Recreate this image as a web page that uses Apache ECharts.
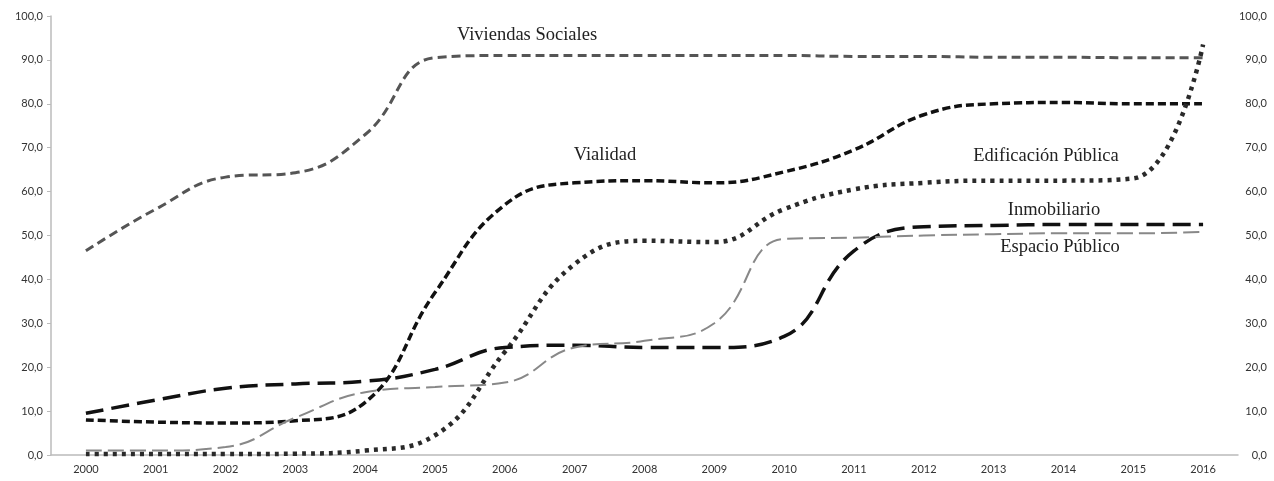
<!DOCTYPE html>
<html>
<head>
<meta charset="utf-8">
<script src="https://cdn.jsdelivr.net/npm/echarts@6/dist/echarts.min.js"></script>
<style>
html,body{margin:0;padding:0;background:#fff;}
#c{width:1274px;height:481px;}
</style>
</head>
<body>
<div id="c"></div>
<script>
const years = ['2000','2001','2002','2003','2004','2005','2006','2007','2008','2009','2010','2011','2012','2013','2014','2015','2016'];
const viviendasSociales = [46.5, 56.0, 63.3, 64.3, 73.0, 90.5, 91.0, 91.0, 91.0, 91.0, 91.0, 90.8, 90.8, 90.6, 90.6, 90.5, 90.5];
const vialidad = [8.0, 7.5, 7.3, 7.8, 12.0, 37.0, 57.0, 62.0, 62.5, 62.0, 64.5, 69.5, 77.5, 80.0, 80.3, 80.0, 80.0];
const edificacionPublica = [0.2, 0.2, 0.2, 0.3, 1.0, 4.5, 23.5, 43.5, 48.8, 48.5, 56.0, 60.5, 62.0, 62.5, 62.5, 63.0, 93.5];
const inmobiliario = [9.5, 12.5, 15.2, 16.2, 16.8, 19.5, 24.5, 25.0, 24.5, 24.5, 27.0, 46.5, 52.0, 52.3, 52.5, 52.5, 52.5];
const espacioPublico = [1.0, 1.0, 1.8, 8.5, 14.3, 15.5, 16.5, 24.5, 26.0, 30.0, 49.2, 49.5, 50.0, 50.3, 50.5, 50.5, 50.8];
const seriesLabels = ['Viviendas Sociales', 'Vialidad', 'Edificación Pública', 'Inmobiliario', 'Espacio Público'];

const fmt = v => v.toFixed(1).replace('.', ',');
const axisFont = {fontFamily: 'Lato', fontSize: 11, color: '#333'};
const labelFont = {fontFamily: 'Liberation Serif', fontSize: 18.5, fill: '#222'};

const chart = echarts.init(document.getElementById('c'), null, {renderer: 'canvas'});
chart.setOption({
  animation: false,
  backgroundColor: '#fff',
  grid: {left: 51, right: 36, top: 16, bottom: 26, containLabel: false},
  xAxis: {
    type: 'category', data: years, boundaryGap: true,
    axisLine: {lineStyle: {color: '#bbb', width: 1.5}},
    axisTick: {show: false},
    axisLabel: Object.assign({margin: 9}, axisFont)
  },
  yAxis: [{
    type: 'value', min: 0, max: 100, interval: 10, position: 'left',
    splitLine: {show: false},
    axisLine: {show: true, lineStyle: {color: '#bbb', width: 1.5}},
    axisTick: {show: true, length: 4, lineStyle: {color: '#bbb'}},
    axisLabel: Object.assign({margin: 8, formatter: fmt}, axisFont)
  }, {
    type: 'value', min: 0, max: 100, interval: 10, position: 'right',
    splitLine: {show: false},
    axisLine: {show: false},
    axisTick: {show: false},
    axisLabel: Object.assign({margin: 29, align: 'right', formatter: fmt}, axisFont)
  }],
  series: [
    {name: seriesLabels[0], type: 'line', data: viviendasSociales, smooth: 0.45, symbol: 'none',
     lineStyle: {color: '#555', width: 3, type: [9, 5]}},
    {name: seriesLabels[1], type: 'line', data: vialidad, smooth: 0.45, symbol: 'none',
     lineStyle: {color: '#111', width: 3.5, type: [8, 4]}},
    {name: seriesLabels[2], type: 'line', data: edificacionPublica, smooth: 0.45, symbol: 'none',
     lineStyle: {color: '#2a2a2a', width: 4.5, type: [4, 5]}},
    {name: seriesLabels[3], type: 'line', data: inmobiliario, smooth: 0.45, symbol: 'none',
     lineStyle: {color: '#111', width: 3.5, type: [18, 8]}},
    {name: seriesLabels[4], type: 'line', data: espacioPublico, smooth: 0.45, symbol: 'none',
     lineStyle: {color: '#888', width: 2, type: [16, 6]}}
  ],
  graphic: [
    {type: 'text', x: 527, y: 35, style: Object.assign({text: seriesLabels[0], align: 'center', verticalAlign: 'middle'}, labelFont)},
    {type: 'text', x: 605, y: 155, style: Object.assign({text: seriesLabels[1], align: 'center', verticalAlign: 'middle'}, labelFont)},
    {type: 'text', x: 1046, y: 156, style: Object.assign({text: seriesLabels[2], align: 'center', verticalAlign: 'middle'}, labelFont)},
    {type: 'text', x: 1054, y: 210, style: Object.assign({text: seriesLabels[3], align: 'center', verticalAlign: 'middle'}, labelFont)},
    {type: 'text', x: 1060, y: 247, style: Object.assign({text: seriesLabels[4], align: 'center', verticalAlign: 'middle'}, labelFont)}
  ]
});
</script>
</body>
</html>
